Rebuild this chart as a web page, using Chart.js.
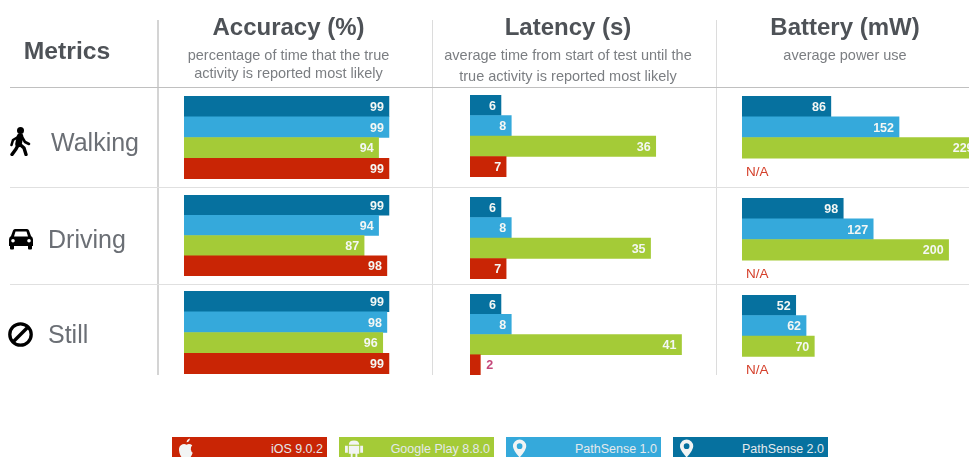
<!DOCTYPE html>
<html>
<head>
<meta charset="utf-8">
<title>Activity recognition metrics</title>
<script src="https://cdn.jsdelivr.net/npm/chart.js@4"></script>
<style>
  html, body { margin: 0; width: 969px; height: 457px; overflow: hidden; background: #fff; font-family: "Liberation Sans", sans-serif; }
  #page { position: relative; width: 969px; height: 457px; overflow: hidden; filter: blur(0.4px); }
  canvas { position: absolute; }
  .line { position: absolute; }
  .title { position: absolute; top: 13px; transform: translateX(-50%); white-space: nowrap; font-size: 24px; font-weight: bold; color: #4e5257; line-height: 28px; }
  .head { position: absolute; top: 37px; transform: translateX(-50%); white-space: nowrap; font-size: 24.7px; font-weight: bold; color: #4e5257; line-height: 28px; }
  .sub { position: absolute; transform: translateX(-50%); white-space: nowrap; text-align: center; font-size: 14.5px; color: #7b7e82; }
  .row { position: absolute; white-space: nowrap; font-size: 25px; color: #6b6f75; line-height: 30px; }
  .icon { position: absolute; }
  .key { position: absolute; top: 437px; width: 155px; height: 26px; color: #e4e9ec; font-size: 12.5px; line-height: 24px; text-align: right; }
  .key span { margin-right: 4px; }
  .key svg { position: absolute; left: 6px; top: 1px; }
</style>
</head>
<body>
<div id="page"></div>
<script>
// DATA
const activities = ['Walking', 'Driving', 'Still'];
const providers = ['PathSense 2.0', 'PathSense 1.0', 'Google Play 8.8.0', 'iOS 9.0.2'];
const legendOrder = ['iOS 9.0.2', 'Google Play 8.8.0', 'PathSense 1.0', 'PathSense 2.0'];

const accuracyWalking = [99, 99, 94, 99];
const accuracyDriving = [99, 94, 87, 98];
const accuracyStill = [99, 98, 96, 99];

const latencyWalking = [6, 8, 36, 7];
const latencyDriving = [6, 8, 35, 7];
const latencyStill = [6, 8, 41, 2];

const batteryWalking = [86, 152, 229, null];
const batteryDriving = [98, 127, 200, null];
const batteryStill = [52, 62, 70, null];

const metricTitles = ['Accuracy (%)', 'Latency (s)', 'Battery (mW)'];
const metricNotes = [
    ['percentage of time that the true', 'activity is reported most likely'],
    ['average time from start of test until the', 'true activity is reported most likely'],
    ['average power use']
];

// LAYOUT AND COLOURS
const colors = { 'PathSense 2.0': '#06719f', 'PathSense 1.0': '#35a9db', 'Google Play 8.8.0': '#a4cb37', 'iOS 9.0.2': '#c92505' };
const page = document.getElementById('page');

const columns = [
    { left: 184, width: 207, max: 100, center: 288.5, values: [accuracyWalking, accuracyDriving, accuracyStill], noteTops: [47, 65],
      tops: [96, 195, 291], heights: [83, 81, 83] },
    { left: 470, width: 260, max: 50.4, center: 568, values: [latencyWalking, latencyDriving, latencyStill], noteTops: [47, 68],
      tops: [95, 197, 294], heights: [82, 82, 81] },
    { left: 742, width: 260, max: 251.7, center: 845, values: [batteryWalking, batteryDriving, batteryStill], noteTops: [47],
      tops: [96, 198, 295], heights: [83, 83, 82] }
];
const labelSpots = [
    { left: 51, top: 127 },
    { left: 48, top: 224 },
    { left: 48, top: 319 }
];

function addLine(left, top, width, height, color) {
    const d = document.createElement('div');
    d.className = 'line';
    d.style.cssText = `left:${left}px;top:${top}px;width:${width}px;height:${height}px;background:${color}`;
    page.appendChild(d);
}

function addText(cls, text, left, top) {
    const d = document.createElement('div');
    d.className = cls;
    d.textContent = text;
    d.style.left = left + 'px';
    if (top !== null) d.style.top = top + 'px';
    page.appendChild(d);
}

// Grid lines
addLine(157, 20, 2, 355, '#d4d4d4');
addLine(432, 20, 1, 355, '#dcdcdc');
addLine(716, 20, 1, 355, '#dcdcdc');
addLine(10, 87, 959, 1, '#c0c0c0');
addLine(10, 187, 959, 1, '#e0e0e0');
addLine(10, 284, 959, 1, '#e0e0e0');

// Headers
addText('head', 'Metrics', 67, 37);
columns.forEach((col, i) => {
    addText('title', metricTitles[i], col.center, null);
    metricNotes[i].forEach((note, n) => addText('sub', note, col.center, col.noteTops[n]));
});
activities.forEach((name, r) => addText('row', name, labelSpots[r].left, labelSpots[r].top));

// Row icons
const icons = [
    { left: 9, top: 127, w: 22, h: 29, box: '0 0 22 29',
      svg: '<circle cx="11.500" cy="3.500" r="3.500"/><g fill="none" stroke="#000" stroke-linecap="round" stroke-linejoin="round"><path d="M11 9.500 9.500 17" stroke-width="6.500"/><path d="M9 10 4 13 2.500 18M13 10 16 15 20 17" stroke-width="2.600"/><path d="M9.500 17 7 22 3 27.500M10.500 17 15 21 17 27.500" stroke-width="3.400"/></g>' },
    { left: 9, top: 228, w: 24, h: 22, box: '0 0 24 22',
      svg: '<path fill-rule="evenodd" d="M6 1h12q1.500 0 2 1.500L22 8q2 1 2 3.500V18h-1v2.500q0 1-1 1h-2q-1 0-1-1V18H5v2.500q0 1-1 1H2q-1 0-1-1V18H0v-6.500Q0 9 2 8l2-5.500Q4.500 1 6 1zM6.500 3.500 5 8.500h14l-1.500-5zM4 11a1.800 1.800 0 1 0 0 3.600A1.800 1.800 0 0 0 4 11zm16 0a1.800 1.800 0 1 0 0 3.600 1.800 1.800 0 0 0 0-3.600z"/>' },
    { left: 8, top: 322, w: 25, h: 25, box: '0 0 25 25',
      svg: '<circle cx="12.500" cy="12.500" r="10.700" fill="none" stroke="#000" stroke-width="3.300"/><path d="M5 20 20 5" stroke="#000" stroke-width="3.300"/>' }
];
icons.forEach(ic => {
    const wrap = document.createElement('div');
    wrap.className = 'icon';
    wrap.style.cssText = `left:${ic.left}px;top:${ic.top}px`;
    wrap.innerHTML = `<svg width="${ic.w}" height="${ic.h}" viewBox="${ic.box}">${ic.svg}</svg>`;
    page.appendChild(wrap);
});

// Legend
const legendLefts = [172, 339, 506, 673];
const legendIcons = [
    '<path d="M9 4q.5-3.500 3.500-4 0 3.500-3.500 4zM3 7q3-2 6-.5 3-1.500 6 .5-2 2-1.500 4.500t2 3.500q-2 5.500-4 5.500-1.500 0-2.500-.5T6 20.500q-3 0-4.500-5.500T3 7z"/>',
    '<path d="M4 6.500q0-4.500 5.500-4.500T15 6.500zM4 7.500h11V16h-2v5h-2v-5H8v5H6v-5H4zM0 7.500h3V15H0zM16 7.500h3V15h-3z"/>',
    '<path fill-rule="evenodd" d="M8 1a7 7 0 0 1 7 7q0 4-7 12Q1 12 1 8a7 7 0 0 1 7-7zm0 4a3 3 0 1 0 0 6 3 3 0 0 0 0-6z"/>',
    '<path fill-rule="evenodd" d="M8 1a7 7 0 0 1 7 7q0 4-7 12Q1 12 1 8a7 7 0 0 1 7-7zm0 4a3 3 0 1 0 0 6 3 3 0 0 0 0-6z"/>'
];
legendOrder.forEach((name, i) => {
    const k = document.createElement('div');
    k.className = 'key';
    k.style.left = legendLefts[i] + 'px';
    k.style.background = colors[name];
    k.innerHTML = `<svg width="19" height="21" viewBox="0 0 20 21" fill="#f2f4f4">${legendIcons[i]}</svg><span>${name}</span>`;
    page.appendChild(k);
});

// Value labels inside the bars, N/A where a provider has no figure
const barLabels = {
    id: 'barLabels',
    afterDatasetsDraw(chart) {
        const ctx = chart.ctx;
        const vals = chart.data.datasets[0].data;
        ctx.save();
        ctx.textBaseline = 'middle';
        vals.forEach((val, i) => {
            const y = chart.scales.y.getPixelForValue(i);
            if (val === null) {
                ctx.font = '13.500px "Liberation Sans"';
                ctx.fillStyle = '#d5402b';
                ctx.textAlign = 'left';
                ctx.fillText('N/A', 4, y + 4);
                return;
            }
            const x = chart.scales.x.getPixelForValue(val);
            ctx.font = 'bold 12.500px "Liberation Sans"';
            if (x < 20) {
                ctx.fillStyle = '#c4477a';
                ctx.textAlign = 'left';
                ctx.fillText(val, x + 6, y + 1);
            } else {
                ctx.fillStyle = '#f4f7f4';
                ctx.textAlign = 'right';
                ctx.fillText(val, x - 5, y + 1);
            }
        });
        ctx.restore();
    }
};

// 📊 One small bar chart per metric and activity
columns.forEach(col => {
    activities.forEach((name, r) => {
        const canvas = document.createElement('canvas');
        canvas.width = col.width;
        canvas.height = col.heights[r];
        canvas.style.left = col.left + 'px';
        canvas.style.top = col.tops[r] + 'px';
        page.appendChild(canvas);

        new Chart(canvas.getContext('2d'), {
            type: 'bar',
            data: {
                labels: providers,
                datasets: [{
                    data: col.values[r],
                    backgroundColor: providers.map(p => colors[p]),
                    barPercentage: 1,
                    categoryPercentage: 1
                }]
            },
            options: {
                indexAxis: 'y',
                responsive: false,
                animation: false,
                events: [],
                layout: { padding: 0 },
                plugins: { legend: { display: false }, tooltip: { enabled: false } },
                scales: {
                    x: { display: false, min: 0, max: col.max },
                    y: { display: false }
                }
            },
            plugins: [barLabels]
        });
    });
});
</script>
</body>
</html>
